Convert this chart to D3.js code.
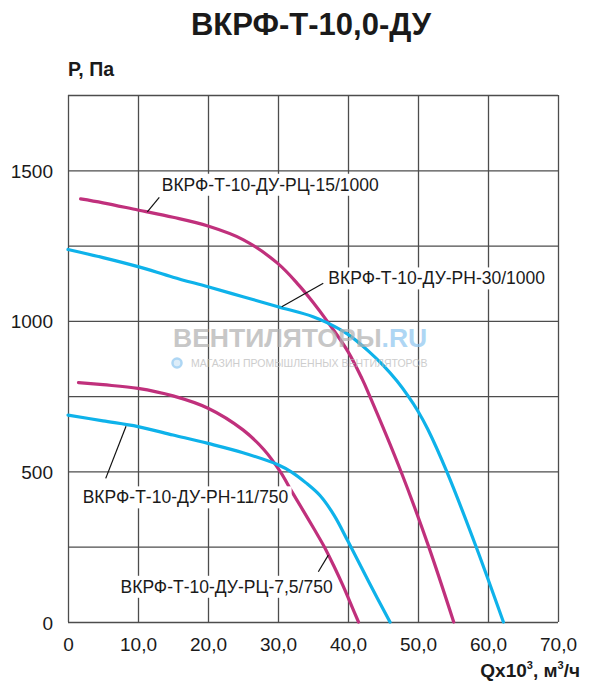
<!DOCTYPE html>
<html>
<head>
<meta charset="utf-8">
<script src="https://cdn.jsdelivr.net/npm/d3@7"></script>
<style>
  body { margin: 0; background: #fff; }
  svg text { font-family: "Liberation Sans", Arial, sans-serif; }
</style>
</head>
<body>
<div id="chart"></div>
<script>
// data: Q (x10^3 m3/h) and P (Pa)
var rc15Q = [1.8, 5, 10, 15, 20, 25, 30, 33, 35, 37, 40, 42, 43, 47.5, 51.5, 55.1];
var rc15P = [1405, 1392, 1368, 1344, 1315, 1270, 1190, 1118, 1062, 1000, 898, 808, 756, 504, 252, 0];

var rn30Q = [0, 5, 10, 15, 20, 25, 30, 35, 37, 40, 43, 45, 47, 48.6, 50, 51.4, 54.1, 58.3, 62.2];
var rn30P = [1237, 1210, 1180, 1145, 1113, 1080, 1047, 1014, 994, 955, 898, 853, 800, 750, 700, 640, 500, 250, 0];

var rc75Q = [1.5, 5, 10, 15, 20, 25, 28, 30.3, 32, 33.6, 35.2, 36.7, 38, 39.3, 40.4, 41.5];
var rc75P = [795, 788, 776, 751, 710, 638, 572, 500, 432, 370, 307, 246, 185, 120, 60, 0];

var rn11Q = [0, 5, 10, 15, 20, 25, 30, 32, 34, 36, 38, 40, 43, 46];
var rn11P = [687, 668, 649, 621, 593, 562, 522, 497, 462, 420, 355, 268, 132, 0];

var seriesNames = ["ВКРФ-Т-10-ДУ-РЦ-15/1000", "ВКРФ-Т-10-ДУ-РН-30/1000",
                   "ВКРФ-Т-10-ДУ-РЦ-7,5/750", "ВКРФ-Т-10-ДУ-РН-11/750"];
var xTicks = [0, 10, 20, 30, 40, 50, 60, 70];
var yGrid = [0, 250, 500, 750, 1000, 1250, 1500, 1750];
var yTicks = [0, 500, 1000, 1500];

var magenta = "#c0307c";
var cyan = "#0eb2ea";

var width = 600, height = 696;
var margin = { top: 95, right: 42, bottom: 74, left: 68 };
var chartWidth = width - margin.left - margin.right;
var chartHeight = height - margin.top - margin.bottom;

var svg = d3.select("#chart").append("svg")
  .attr("width", width)
  .attr("height", height)
  .style("background", "#fff");

var chartGroup = svg.append("g")
  .attr("transform", `translate(${margin.left}, ${margin.top})`);

var xScale = d3.scaleLinear().domain([0, 70]).range([0, chartWidth]);
var yScale = d3.scaleLinear().domain([0, 1750]).range([chartHeight, 0]);

var ru = d3.formatLocale({ decimal: ",", thousands: " ", grouping: [3], currency: ["", ""] });
var fmt1 = ru.format(".1f");

// grid
chartGroup.append("g")
  .attr("class", "grid")
  .attr("transform", `translate(0, ${chartHeight})`)
  .call(d3.axisBottom(xScale).tickValues(xTicks).tickSize(-chartHeight).tickFormat(""));

chartGroup.append("g")
  .attr("class", "grid")
  .call(d3.axisLeft(yScale).tickValues(yGrid).tickSize(-chartWidth).tickFormat(""));

chartGroup.selectAll(".grid .domain").remove();
chartGroup.selectAll(".grid line")
  .attr("stroke", "#4d4d4d")
  .attr("stroke-width", 1.3);

// tick labels
var xAxis = chartGroup.append("g")
  .attr("transform", `translate(0, ${chartHeight})`)
  .call(d3.axisBottom(xScale).tickValues(xTicks).tickSize(0)
    .tickFormat(d => d === 0 ? "0" : fmt1(d)));
xAxis.select(".domain").remove();
xAxis.selectAll("text")
  .attr("y", 29)
  .attr("dy", 0)
  .attr("font-size", 19)
  .attr("font-family", "Liberation Sans, Arial, sans-serif")
  .attr("fill", "#1a1a1a");

var yAxis = chartGroup.append("g")
  .call(d3.axisLeft(yScale).tickValues(yTicks).tickSize(0).tickFormat(d3.format("d")));
yAxis.select(".domain").remove();
yAxis.selectAll("text")
  .attr("x", -15)
  .attr("dy", 0)
  .attr("y", 7)
  .attr("font-size", 19)
  .attr("font-family", "Liberation Sans, Arial, sans-serif")
  .attr("fill", "#1a1a1a");

// watermark
var wm = svg.append("g").attr("opacity", 0.7);
var wmText = wm.append("text")
  .attr("x", 173)
  .attr("y", 347)
  .attr("font-size", 26.5)
  .attr("font-weight", "bold");
wmText.append("tspan").attr("fill", "#b0b0b0").text("ВЕНТИЛЯТОРЫ");
wmText.append("tspan").attr("fill", "#8cc6f0").text(".RU");
wm.append("circle")
  .attr("cx", 177)
  .attr("cy", 363)
  .attr("r", 4.5)
  .attr("fill", "#cfe6f7")
  .attr("stroke", "#8cc6f0")
  .attr("stroke-width", 2.5);
wm.append("text")
  .attr("x", 191)
  .attr("y", 367)
  .attr("font-size", 10.5)
  .attr("fill", "#b8b8b8")
  .text("МАГАЗИН ПРОМЫШЛЕННЫХ ВЕНТИЛЯТОРОВ");

// curves
var curves = [
  { q: rc15Q, p: rc15P, color: magenta },
  { q: rn30Q, p: rn30P, color: cyan },
  { q: rc75Q, p: rc75P, color: magenta },
  { q: rn11Q, p: rn11P, color: cyan }
];

var line = d3.line()
  .x(d => xScale(d[0]))
  .y(d => yScale(d[1]))
  .curve(d3.curveCatmullRom.alpha(0.5));

chartGroup.selectAll(".curve")
  .data(curves)
  .enter()
  .append("path")
  .attr("class", "curve")
  .attr("d", d => line(d.q.map((q, i) => [q, d.p[i]])))
  .attr("fill", "none")
  .attr("stroke", d => d.color)
  .attr("stroke-width", 3.2)
  .attr("stroke-linecap", "round")
  .attr("stroke-linejoin", "round");

// labels with leader lines (in data units)
var labels = [
  { name: seriesNames[0], at: [13.39, 1432], anchor: "start", lead: [[11.33, 1362], [13.04, 1410]] },
  { name: seriesNames[1], at: [37.19, 1121], anchor: "start", lead: [[30.53, 1047], [36.47, 1125]] },
  { name: seriesNames[2], at: [37.81, 97], anchor: "end", lead: [[37.19, 222], [35.76, 167]] },
  { name: seriesNames[3], at: [2.1, 394], anchor: "start", lead: [[8.29, 650], [5.39, 477]] }
];

labels.forEach(function(l) {
  var g = chartGroup.append("g");
  var bg = g.append("rect").attr("fill", "#fff");
  var t = g.append("text")
    .attr("x", xScale(l.at[0]))
    .attr("y", yScale(l.at[1]))
    .attr("text-anchor", l.anchor)
    .attr("font-size", 17.5)
    .attr("fill", "#1a1a1a")
    .text(l.name);
  var b = t.node().getBBox();
  bg.attr("x", b.x - 3).attr("y", b.y - 1)
    .attr("width", b.width + 6).attr("height", b.height + 2);
  chartGroup.append("line")
    .attr("x1", xScale(l.lead[0][0])).attr("y1", yScale(l.lead[0][1]))
    .attr("x2", xScale(l.lead[1][0])).attr("y2", yScale(l.lead[1][1]))
    .attr("stroke", "#111")
    .attr("stroke-width", 1.2);
});

// title and axis titles
svg.append("text")
  .attr("x", 311)
  .attr("y", 35)
  .attr("text-anchor", "middle")
  .attr("font-size", 31)
  .attr("font-weight", "bold")
  .attr("fill", "#1a1a1a")
  .text("ВКРФ-Т-10,0-ДУ");

svg.append("text")
  .attr("x", 68)
  .attr("y", 76)
  .attr("font-size", 19.5)
  .attr("font-weight", "bold")
  .attr("fill", "#1a1a1a")
  .text("Р, Па");

var qLabel = svg.append("text")
  .attr("x", 580)
  .attr("y", 677)
  .attr("text-anchor", "end")
  .attr("font-size", 19)
  .attr("font-weight", "bold")
  .attr("fill", "#1a1a1a");
qLabel.append("tspan").text("Qx10");
qLabel.append("tspan").attr("font-size", 11).attr("dy", -8).text("3");
qLabel.append("tspan").attr("dy", 8).text(", м");
qLabel.append("tspan").attr("font-size", 11).attr("dy", -8).text("3");
qLabel.append("tspan").attr("dy", 8).text("/ч");
</script>
</body>
</html>
